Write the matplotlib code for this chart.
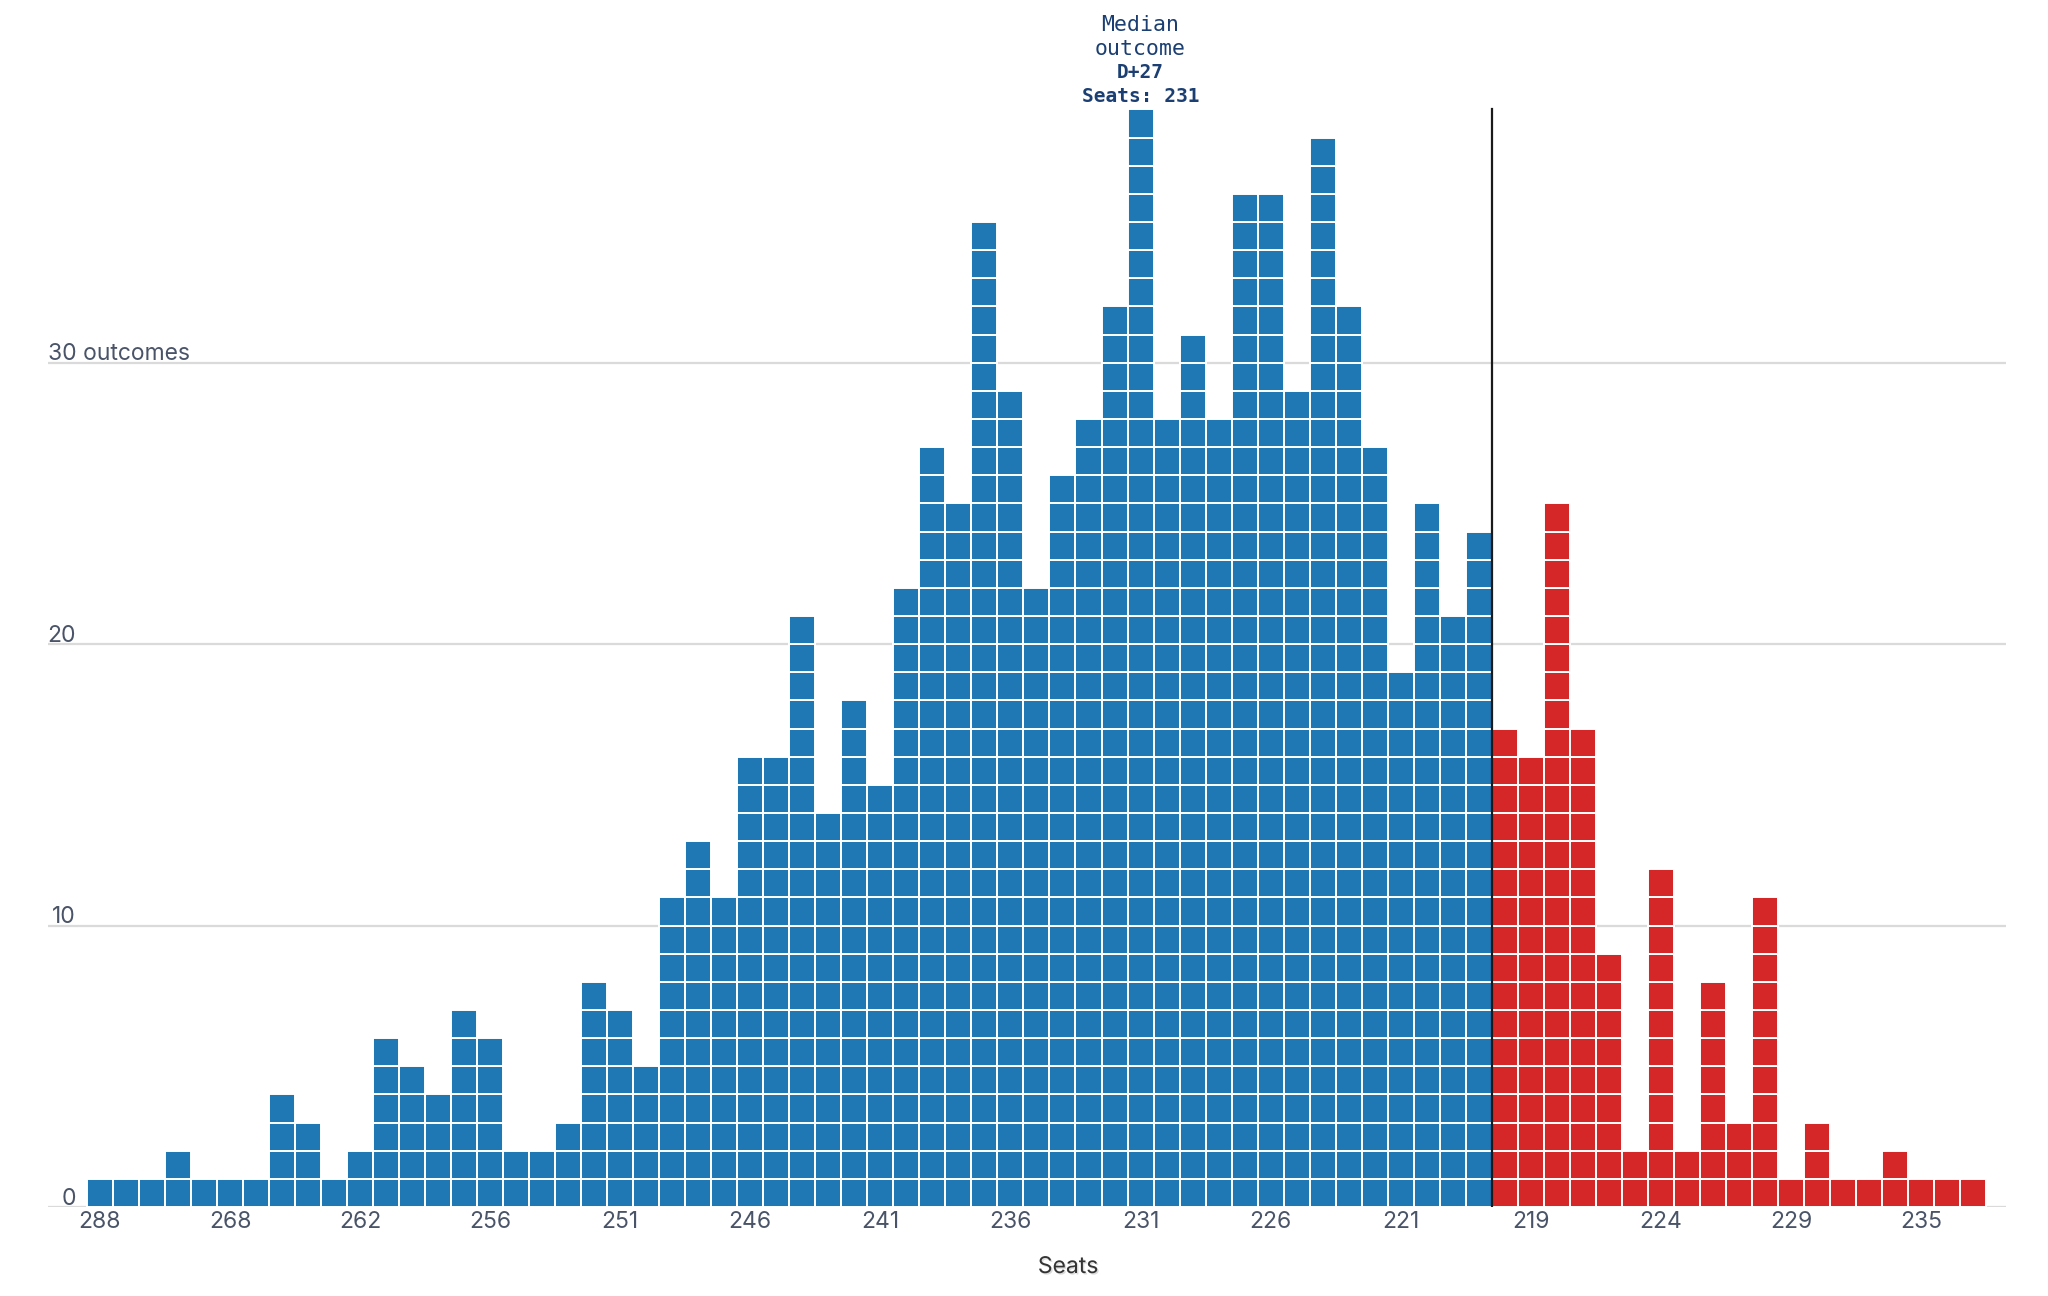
import numpy as np
import matplotlib.pyplot as plt
import matplotlib.transforms as mtransforms
import matplotlib.patheffects as pe

# outcomes per seat count (one column per seat total that occurred)
dem_counts = [1, 1, 1, 2, 1, 1, 1, 4, 3, 1,
              2, 6, 5, 4, 7, 6, 2, 2, 3, 8,
              7, 5, 11, 13, 11, 16, 16, 21, 14, 18,
              15, 22, 27, 25, 35, 29, 22, 26, 28, 32,
              39, 28, 31, 28, 36, 36, 29, 38, 32, 27,
              19, 25, 21, 24]
rep_counts = [17, 16, 25, 17, 9, 2, 12, 2, 8, 3,
              11, 1, 3, 1, 1, 2, 1, 1, 1]

tick_cols = [0, 5, 10, 15, 20, 25, 30, 35, 40, 45, 50, 55, 60, 65, 70]
tick_labels = ['288', '268', '262', '256', '251', '246', '241', '236',
               '231', '226', '221', '219', '224', '229', '235']
grid_vals = [0, 10, 20, 30]
grid_labels = ['0', '10', '20', '30 outcomes']
median_col = 40
median_lines = ['Median', 'outcome', 'D+27', 'Seats: 231']

blue = '#1f77b4'
red = '#d62728'
label_col = '#4a5468'

counts = np.array(dem_counts + rep_counts)
colors = np.array([blue] * len(dem_counts) + [red] * len(rep_counts))
x = np.arange(len(counts))

fig = plt.figure(figsize=(20.48, 12.96), dpi=100)
ax = fig.add_axes([0.0234, 0.0687, 0.9561, 0.9313])

# stack one square per outcome
for level in range(counts.max()):
    m = counts > level
    ax.bar(x[m], 1, bottom=level, width=1, color=colors[m],
           edgecolor='white', linewidth=1.4, zorder=2)

# line between the two parties
split = len(dem_counts) - 0.5
ax.plot([split, split], [0, counts.max()], color='#1a1a1a', lw=1.6, zorder=3)

for v in grid_vals:
    ax.axhline(v, color='#dadada', lw=1.6, zorder=1)

trans = mtransforms.blended_transform_factory(fig.transFigure, ax.transData)
for v, lab in zip(grid_vals, grid_labels):
    if lab.endswith('outcomes'):
        ax.text(0.0234, v + 0.1, lab, transform=trans, ha='left', va='baseline',
                fontsize=16.5, color=label_col, family='Inter')
    else:
        ax.text(0.0371, v + 0.08, lab, transform=trans, ha='right', va='baseline',
                fontsize=16.5, color=label_col, family='Inter')

# median annotation
ys = [42.0, 41.15, 40.3, 39.45]
sizes = [15.5, 15.5, 14, 14]
weights = ['normal', 'normal', 'bold', 'bold']
for line, y, fs, w in zip(median_lines, ys, sizes, weights):
    ax.text(median_col, y, line, ha='center', va='center', fontsize=fs,
            color='#1b3f72', family='DejaVu Sans Mono', fontweight=w,
            clip_on=False)

ax.set_xlim(-2.0, 73.27)
ax.set_ylim(0, 42.89)
ax.set_xticks(tick_cols)
ax.set_xticklabels(tick_labels, fontsize=16.5, color=label_col, family='Inter')
ax.tick_params(axis='x', length=0, pad=3)
ax.set_yticks([])
for s in ax.spines.values():
    s.set_visible(False)

fig.text(0.5215, 0.0224, 'Seats', ha='center', va='center', fontsize=16.5,
         color='#333333', family='Inter',
         path_effects=[pe.withSimplePatchShadow(offset=(1, -1), alpha=0.15)])

fig.savefig('out.png', dpi=100)
